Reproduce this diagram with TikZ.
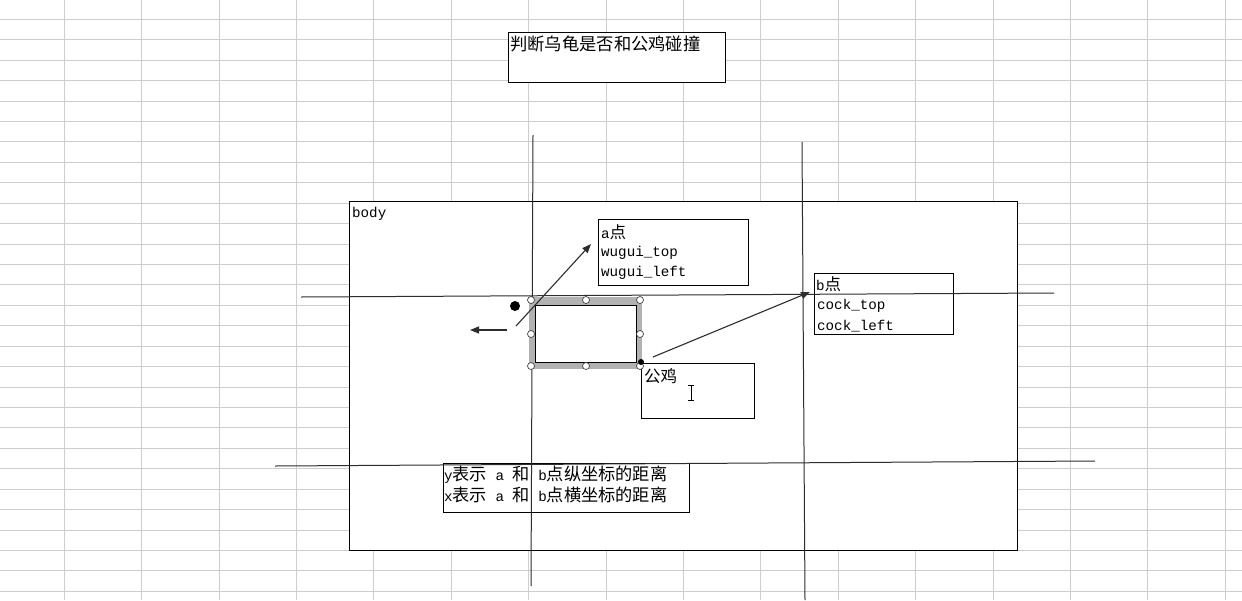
\documentclass[tikz,border=0pt]{standalone}
\usepackage{fontspec}
\setmainfont{Liberation Mono}
\newfontfamily\cjk{Noto Sans CJK SC}
\usetikzlibrary{arrows.meta}
\definecolor{gridc}{RGB}{205,205,205}
\definecolor{linec}{RGB}{45,45,45}
\newcommand\zh[1]{{\cjk\fontsize{16.5}{18}\selectfont #1}}
\newcommand\zhb[1]{{\cjk\fontsize{17.2}{19}\selectfont #1}}
\begin{document}
\begin{tikzpicture}[x=1pt,y=-1pt,
  box/.style={draw=black,fill=white,line width=1pt,anchor=north west,inner sep=0pt},
  lbl/.style={anchor=west,inner sep=0pt,font=\fontsize{14.2}{16}\selectfont},
  guide/.style={draw=linec,line width=1pt},
  arr/.style={draw=linec,line width=1.1pt,-{Triangle[length=9pt,width=7pt]}},
  handle/.style={circle,draw=black!75,fill=white,line width=0.7pt,minimum size=7pt,inner sep=0pt}
]
\useasboundingbox (0,0) rectangle (1242,600);
\fill[white] (0,0) rectangle (1242,600);
% spreadsheet grid
\foreach \k in {0,...,15} \draw[gridc,line width=1pt] ({64.3+77.4*\k},0) -- ({64.3+77.4*\k},600);
\foreach \k in {0,...,28} \draw[gridc,line width=1pt] (0,{19.3+20.43*\k}) -- (1242,{19.3+20.43*\k});

% body
\node[box,minimum width=668pt,minimum height=349pt] (body) at (349,201) {};
\node[lbl] (bodylbl) at (352,214) {body};

% title
\node[box,minimum width=217pt,minimum height=50pt] (title) at (508,32) {};
\node[anchor=west,inner sep=0pt,font=\fontsize{17.3}{19}\selectfont\cjk] (titletext) at (510,44) {判断乌龟是否和公鸡碰撞};

% a point box
\node[box,minimum width=150pt,minimum height=66pt] (abox) at (598,219) {};
\node[lbl] (a1) at (601,232) {a\zh{点}};
\node[lbl] (a2) at (601,253) {wugui\_top};
\node[lbl] (a3) at (601,273) {wugui\_left};

% b point box
\node[box,minimum width=139pt,minimum height=61pt] (bbox) at (814,273) {};
\node[lbl] (b1) at (816,284) {b\zh{点}};
\node[lbl] (b2) at (817,306) {cock\_top};
\node[lbl] (b3) at (817,326) {cock\_left};

% rooster box
\node[box,minimum width=113pt,minimum height=55pt] (gbox) at (641,363) {};
\node[lbl] (g1) at (644,376) {\zh{公鸡}};

% bottom text box
\node[box,minimum width=246pt,minimum height=49pt] (tbox) at (443,463) {};
\node[lbl] (t1) at (444,475) {y\zhb{表示} a \zhb{和} b\zhb{点纵坐标的距离}};
\node[lbl] (t2) at (444,495) {x\zhb{表示} a \zhb{和} b\zhb{点横坐标的距离}};

% guide lines
\coordinate (v1a) at (533,135); \coordinate (v1b) at (531,586);
\coordinate (v2a) at (802,142); \coordinate (v2b) at (805,600);
\coordinate (h1a) at (301,297); \coordinate (h1b) at (1054,293);
\coordinate (h2a) at (275,466); \coordinate (h2b) at (1095,461);
\draw[guide] (v1a) -- (v1b);
\draw[guide] (v2a) -- (v2b);
\draw[guide] (h1a) -- (h1b);
\draw[guide] (h2a) -- (h2b);

% selected turtle rectangle
\node[anchor=north west,fill=black!30,minimum width=113pt,minimum height=72pt,inner sep=0pt] (selframe) at (529,297) {};
\node[box,minimum width=101pt,minimum height=57pt] (sel) at (535,305) {};
\node[handle] (hnw) at (531,300) {};
\node[handle] (hn)  at (586,300) {};
\node[handle] (hne) at (640,300) {};
\node[handle] (hw)  at (531,334) {};
\node[handle] (he)  at (640,334) {};
\node[handle] (hsw) at (531,366) {};
\node[handle] (hs)  at (586,366) {};
\node[handle] (hse) at (640,366) {};

% dots
\node[circle,fill=black,minimum size=10pt,inner sep=0pt] (dotA) at (515,306) {};
\node[circle,fill=black,minimum size=6pt,inner sep=0pt] (dotB) at (641,362) {};

% arrows
\coordinate (leftS) at (507,330); \coordinate (leftE) at (470,330);
\coordinate (aS) at (516,326); \coordinate (aE) at (591,244);
\coordinate (bS) at (653,357); \coordinate (bE) at (810,292);
\draw[arr] (leftS) -- (leftE);
\draw[arr] (aS) -- (aE);
\draw[arr] (bS) -- (bE);

% text cursor (I-beam)
\draw[black,line width=0.9pt] (691,385) -- (691,400);
\draw[black,line width=0.9pt] (688,385) -- (694,385);
\draw[black,line width=0.9pt] (688,400.5) -- (694,400.5);
\end{tikzpicture}
\end{document}
